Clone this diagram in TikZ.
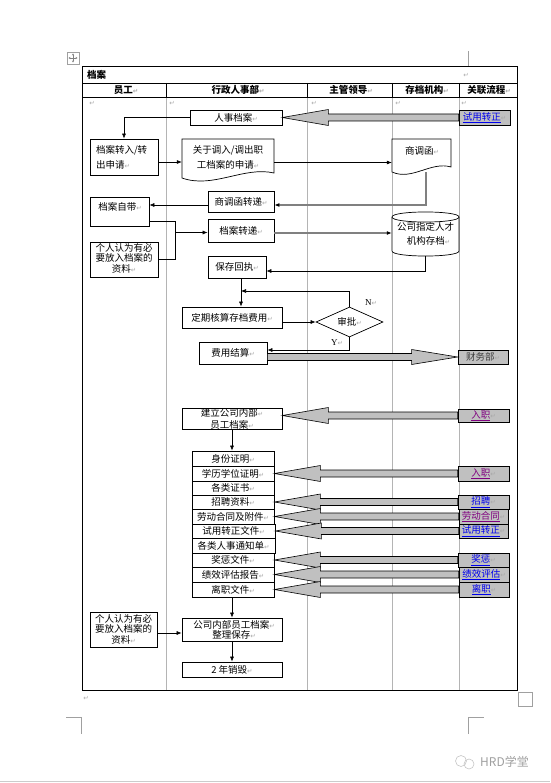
\documentclass[tikz,border=0pt]{standalone}
\usepackage{fontspec}
\setmainfont{Liberation Serif}
\newfontfamily\cjk{Noto Sans CJK SC}
\newfontfamily\dejavu{DejaVu Sans}
\usetikzlibrary{arrows.meta,shapes.geometric,calc}
\definecolor{arrgray}{HTML}{C0C0C0}
\definecolor{colgray}{HTML}{B4B4B4}
\definecolor{retgray}{HTML}{A8A8A8}
\definecolor{linegray}{HTML}{808080}
\definecolor{linkblue}{HTML}{0000EE}
\definecolor{linkpurple}{HTML}{800080}
\definecolor{markgray}{HTML}{A0A0A0}
\newcommand\rt{{\color{retgray}\dejavu\fontsize{6.5}{7}\selectfont ↵}}
\newcommand\lnk[1]{\textcolor{linkblue}{\underline{#1}}\rt}
\newcommand\lnkp[1]{\textcolor{linkpurple}{\underline{#1}}\rt}
\newcommand\bx[7][box]{\node[#1, minimum width={(#5-#3)*1pt}, minimum height={(#6-#4)*1pt}] (#2) at ({(#3+#5)/2},{(#4+#6)/2}) {#7};}
\newcommand\fatL[2]{\path[fat] let \p1=(#1.west), \p2=(#2.east) in
  (\x1,\y1+3.5pt) -- (\x2+46pt,\y1+3.5pt) -- (\x2+46pt,\y1+8pt) -- (\x2,\y1) --
  (\x2+46pt,\y1-8pt) -- (\x2+46pt,\y1-3.5pt) -- (\x1,\y1-3.5pt) -- cycle;}
\newcommand\fatR[2]{\path[fat] let \p1=(#1.east), \p2=(#2.west) in
  (\x1,\y2+3.5pt) -- (\x2-46pt,\y2+3.5pt) -- (\x2-46pt,\y2+7.5pt) -- (\x2,\y2) --
  (\x2-46pt,\y2-7.5pt) -- (\x2-46pt,\y2-3.5pt) -- (\x1,\y2-3.5pt) -- cycle;}
\tikzset{
  every node/.style={font=\cjk\fontsize{9.5}{11}\selectfont, inner sep=0pt},
  box/.style={draw, line width=0.7pt, fill=white, align=center},
  link/.style={draw, line width=0.7pt, fill=arrgray, align=center},
  conn/.style={line width=0.6pt, -{Latex[length=5pt,width=4pt]}},
  gconn/.style={line width=1.3pt, draw=linegray, -{Latex[length=5pt,width=4pt,color=black]}},
  plain/.style={line width=0.6pt},
  fat/.style={draw=black, line width=0.6pt, fill=arrgray},
  colline/.style={draw=colgray, line width=0.7pt},
  hdr/.style={font=\cjk\bfseries\fontsize{9.5}{11}\selectfont},
  cmark/.style={draw=markgray, line width=0.6pt},
}
\begin{document}
\begin{tikzpicture}[x=1pt,y=-1pt]
\useasboundingbox (0,0) rectangle (550,783);
% ---- page furniture ----
\draw[cmark] (67,52) rectangle (79,64);
\draw[line width=0.5pt, draw=gray, {Stealth[length=2pt,width=2.2pt]}-{Stealth[length=2pt,width=2.2pt]}] (68.5,58) -- (77.5,58);
\draw[line width=0.5pt, draw=gray, {Stealth[length=2pt,width=2.2pt]}-{Stealth[length=2pt,width=2.2pt]}] (73,53.5) -- (73,62.5);
\draw[cmark] (468,51) -- (468,66) -- (483,66);
\draw[cmark] (66,717) -- (81,717) -- (81,734);
\draw[cmark] (468,734) -- (468,717) -- (484,717);
\draw[cmark] (518,692) rectangle (532,706);
\draw[draw=gray!40, line width=0.8pt] (0,781) -- (550,781);
\draw[draw=gray!45, line width=0.6pt] (461,761) circle[radius=5.5pt];
\draw[draw=gray!45, line width=0.6pt] (469,764) circle[radius=5pt];
\node[anchor=west, font=\cjk\fontsize{12}{14}\selectfont, text=gray!75] (wm) at (480,762) {HRD学堂};
% ---- table ----
\foreach \cx in {166,307,392,459} {\draw[colline] (\cx,97) -- (\cx,690);}
\foreach \cx in {166,307,392,459} {\draw[line width=0.7pt] (\cx,83) -- (\cx,97);}
\draw[line width=1pt] (82,67) rectangle (517,690);
\draw[line width=0.8pt] (82,83) -- (517,83);
\draw[line width=0.8pt] (82,97) -- (517,97);
\node[hdr, anchor=west] (title) at (87,75) {档案};
\node (rt0) at (466,75) {\rt};
\node[hdr] (h1) at (126,90) {员工\rt};
\node[hdr] (h2) at (238,90) {行政人事部\rt};
\node[hdr] (h3) at (351,90) {主管领导\rt};
\node[hdr] (h4) at (427,90) {存档机构\rt};
\node[hdr] (h5) at (489,90) {关联流程\rt};
\node (rb1) at (92,103) {\rt};
\node (rb2) at (172,103) {\rt};
\node (rb3) at (314,103) {\rt};
\node (rb4) at (398,103) {\rt};
\node (rb5) at (464,103) {\rt};
\node (rbot) at (86,698) {\rt};
% ---- top section ----
\bx{rsda}{190}{110}{282}{125}{人事档案\rt}
\bx[link]{lk1}{459}{110}{510}{125}{\lnk{试用转正}}
\bx{dazr}{90}{139}{158}{175}{}
\node[text width=58pt, align=left, font=\cjk\fontsize{9.5}{15}\selectfont] (dazrt) at (125,157.5) {档案转入/转\\出申请\rt};
% document 1
\draw[line width=0.7pt, fill=white] (182,139) -- (274,139) -- (274,173) .. controls (244,166) and (213,189) .. (182,178) -- cycle;
\node[minimum width=92pt, minimum height=36pt, align=center, font=\cjk\fontsize{9.5}{15}\selectfont] (doc1) at (228,157.5) {关于调入/调出职\\工档案的申请\rt};
% document 2
\draw[line width=0.7pt, fill=white] (392,139) -- (451,139) -- (451,167) .. controls (431,161) and (412,181) .. (392,172) -- cycle;
\node[minimum width=59pt, minimum height=33pt] (shd) at (421.5,155.5) {};
\node (shdt) at (422,151) {商调函\rt};
\bx{sdz}{208}{191}{274}{212}{商调函转递\rt}
\bx{dazd}{90}{197}{149}{226}{}
\node (dazdt) at (120,207) {档案自带\rt};
\bx{grzl}{90}{242}{158}{277}{}
\node[align=center, font=\cjk\fontsize{9.5}{10.5}\selectfont] (grzlt) at (124,258) {个人认为有必\\要放入档案的\\资料\rt};
\bx{dzd}{208}{219}{274}{242}{档案转递\rt}
% cylinder
\draw[line width=0.7pt, fill=white] (392,217) -- (392,251) .. controls (392,257.7) and (459,257.7) .. (459,251) -- (459,217);
\draw[line width=0.7pt, fill=white] (392,217) .. controls (392,210.3) and (459,210.3) .. (459,217) .. controls (459,223.7) and (392,223.7) .. (392,217) -- cycle;
\node[minimum width=67pt, minimum height=44pt, align=center, font=\cjk\fontsize{9.5}{14}\selectfont] (cyl) at (425.5,234) {公司指定人才\\\hspace*{6pt}机构存档\rt};
\bx{bchz}{208}{256}{266}{278}{保存回执\rt}
\bx{dq}{182}{307}{282}{328}{定期核算存档费用\rt}
\node[diamond, draw, line width=0.7pt, fill=white, aspect=2.2, minimum width=67pt, minimum height=30pt] (sp) at (349.5,322) {审批\rt};
\node[font=\fontsize{9}{10}\selectfont] (nlab) at (371,303) {N\rt};
\node[font=\fontsize{9}{10}\selectfont] (ylab) at (337,343) {Y\rt};
\bx{fyjs}{199}{342}{267}{364}{费用结算\rt}
\bx[link]{cwb}{458}{350}{508}{364}{\textcolor{black!75}{财务部}\rt}
% ---- middle section ----
\bx{jl}{182}{408}{282}{429}{}
\node[align=center, font=\cjk\fontsize{9.5}{12}\selectfont] (jlt) at (232,419) {建立公司内部\rt\\员工档案\rt};
\bx[link]{lk0}{458}{409}{509}{422}{\lnkp{入职}}
\bx{r1}{192}{451}{274}{466}{身份证明\rt}
\bx{r2}{192}{466}{274}{481}{学历学位证明\rt}
\bx{r3}{192}{481}{274}{495}{各类证书\rt}
\bx{r4}{192}{495}{274}{509}{招聘资料\rt}
\bx{r5}{192}{509}{274}{524}{劳动合同及附件\rt}
\bx{r6}{192}{524}{275}{538}{试用转正文件\rt}
\bx{r7}{192}{538}{275}{553}{各类人事通知单\rt}
\bx{r8}{192}{553}{274}{567}{奖惩文件\rt}
\bx{r9}{192}{567}{274}{582}{绩效评估报告\rt}
\bx{r10}{192}{582}{274}{597}{离职文件\rt}
\bx[link]{lk2}{458}{466}{509}{481}{\lnkp{入职}}
\bx[link]{lk3}{458}{495}{509}{509}{\lnk{招聘}}
\bx[link]{lk4}{459}{509}{508}{524}{\lnkp{劳动合同}}
\bx[link]{lk5}{459}{524}{508}{538}{\lnk{试用转正}}
\bx[link]{lk6}{458}{553}{509}{567}{\lnk{奖惩}}
\bx[link]{lk7}{459}{567}{509}{582}{\lnk{绩效评估}}
\bx[link]{lk8}{459}{582}{509}{597}{\lnk{离职}}
% ---- bottom section ----
\bx{grzl2}{90}{612}{157}{647}{}
\node[align=center, font=\cjk\fontsize{9.5}{10.5}\selectfont] (grzl2t) at (123.5,629) {个人认为有必\\要放入档案的\\资料\rt};
\bx{gsnb}{182}{618}{282}{641}{}
\node[align=center, font=\cjk\fontsize{9.5}{10.5}\selectfont] (gsnbt) at (234,630) {公司内部员工档案\rt\\整理保存\rt};
\bx{xh}{182}{662}{282}{677}{2 年销毁\rt}
% ---- fat arrows ----
\fatL{lk1}{rsda}
\fatR{fyjs}{cwb}
\fatL{lk0}{jl}
\fatL{lk2}{r2}
\fatL{lk3}{r4}
\fatL{lk4}{r5}
\fatL{lk5}{r6}
\fatL{lk6}{r8}
\fatL{lk7}{r9}
\fatL{lk8}{r10}
% ---- connectors ----
\draw[conn] (rsda.west) -| (dazr.north);
\draw[conn] ([yshift=-5pt]dazr.east) -- ([yshift=-5pt]dazr.east -| doc1.west);
\draw[conn] ([yshift=-5pt]doc1.east) -- ([yshift=-5pt]doc1.east -| shd.west);
\draw[gconn] ([xshift=4.5pt]shd.south) |- ([yshift=-3.5pt]sdz.east);
\draw[conn] ([yshift=-3.5pt]sdz.west) -- ([yshift=-3.5pt]sdz.west -| dazd.east);
\coordinate (j1) at (175,221);
\coordinate (j2) at (175,259.5);
\draw[plain] ([yshift=-9.5pt]dazd.east) -- (j1) -- (j2) -- (grzl.east);
\draw[conn] (j1 |- 0,232.5) -- ([yshift=-2pt]dzd.west);
\draw[gconn] ([yshift=-2.5pt]dzd.east) -- ([yshift=-2.5pt]dzd.east -| cyl.west);
\draw[conn] (cyl.south) |- ([yshift=-4pt]bchz.east);
\draw[conn] ([xshift=4pt]bchz.south) -- ([xshift=4pt]bchz.south |- dq.north);
\coordinate (fb) at (241,291);
\draw[conn] (sp.north) |- (fb);
\draw[conn] (sp.west -| dq.east) -- (sp.west);
\draw[conn] (sp.south) |- ([yshift=3pt]fyjs.east);
\draw[conn] (jl.south) -- (jl.south |- r1.north);
\draw[conn] (gsnb.north |- r10.south) -- (gsnb.north);
\draw[conn] ([yshift=-3.5pt]grzl2.east) -- ([yshift=-3.5pt]grzl2.east -| gsnb.west);
\draw[conn] (gsnb.south) -- (xh.north);
\end{tikzpicture}
\end{document}
